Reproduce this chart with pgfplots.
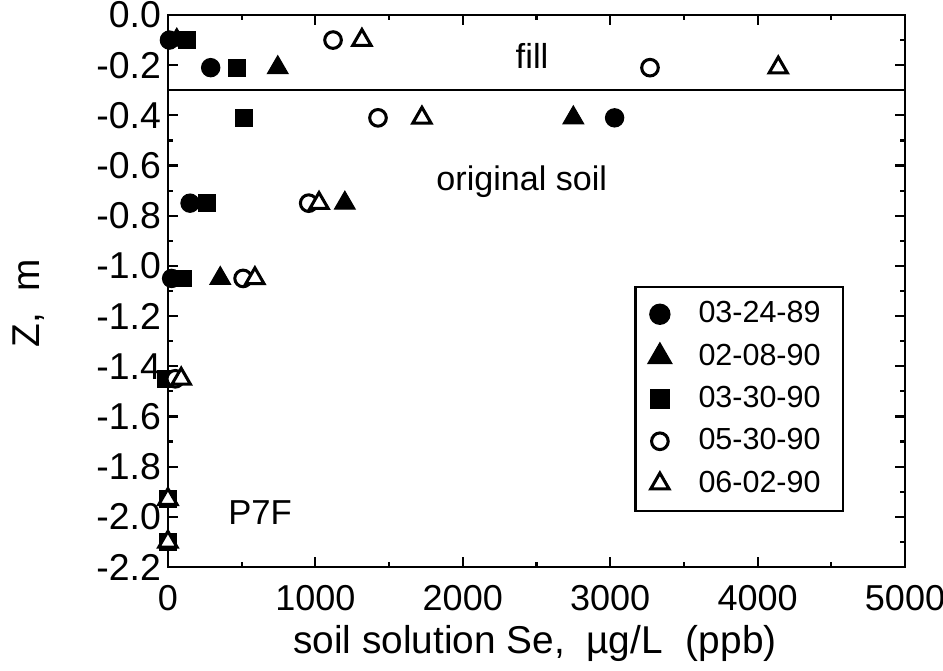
\documentclass[border=0pt]{standalone}
\usepackage{fontspec}
\setmainfont{Liberation Sans}
\usepackage{pgfplots}
\pgfplotsset{compat=1.18}
\begin{document}
\begin{tikzpicture}
\useasboundingbox (-60.6pt,-37.5pt) rectangle (279.7pt,204.6pt);
\begin{axis}[
  at={(0,0)}, anchor=south west,
  scale only axis, width=266pt, height=199.2pt,
  xmin=0, xmax=5000, ymin=-2.2, ymax=0,
  xtick={0,1000,2000,3000,4000,5000},
  minor xtick={500,1500,2500,3500,4500},
  ytick={-2.2,-2.0,-1.8,-1.6,-1.4,-1.2,-1.0,-0.8,-0.6,-0.4,-0.2,0.0},
  minor ytick={-2.1,-1.9,-1.7,-1.5,-1.3,-1.1,-0.9,-0.7,-0.5,-0.3,-0.1},
  tick align=inside, major tick length=3.6pt, minor tick length=1.8pt,
  axis line style={line width=0.9pt},
  every tick/.style={black, line width=0.8pt},
  scaled ticks=false,
  /pgf/number format/assume math mode=true,
  xticklabel style={/pgf/number format/1000 sep={}, font=\fontsize{13}{15}\selectfont, yshift=-3pt},
  yticklabel style={/pgf/number format/.cd, fixed, fixed zerofill, precision=1, /tikz/.cd, font=\fontsize{13.5}{15}\selectfont, xshift=1pt},
  xlabel={soil solution Se,\hspace{0.55em}µg/L\hspace{0.6em}(ppb)},
  xlabel style={font=\fontsize{14}{16}\selectfont, at={(axis description cs:0.498,-0.156)}, anchor=base},
  ylabel={Z,\hspace{0.55em}m},
  ylabel style={font=\fontsize{14}{16}\selectfont, at={(axis description cs:-0.174,0.478)}, anchor=base},
  clip=false,
  legend style={at={(rel axis cs:0.634,0.507)}, anchor=north west, draw=none, fill=none,
    font=\fontsize{11}{13}\selectfont, row sep=2.1pt, inner xsep=3pt, inner ysep=3pt},
  legend cell align=left,
  legend image code/.code={\path[draw=none,fill=none] (0cm,0cm) -- (0.62cm,0cm);\draw[#1, line width=1.1pt] plot coordinates {(0.2cm,0cm)};},
]
% horizontal boundary between fill and original soil
\addplot[black, line width=0.9pt, forget plot] coordinates {(0,-0.3) (5000,-0.3)};

% 03-24-89 filled circles
\addplot[only marks, mark=*, mark size=3.3pt, mark options={fill=black, draw=black}]
  coordinates {(10,-0.1) (290,-0.21) (3030,-0.41) (150,-0.75) (25,-1.05)};
\addlegendentry{03-24-89}
% 02-08-90 filled triangles
\addplot[only marks, mark=triangle*, mark size=4.3pt, mark options={fill=black, draw=black}]
  coordinates {(60,-0.1) (745,-0.21) (2750,-0.41) (1200,-0.75) (355,-1.05)};
\addlegendentry{02-08-90}
% 03-30-90 filled squares
\addplot[only marks, mark=square*, mark size=3.0pt, mark options={fill=black, draw=black}]
  coordinates {(130,-0.1) (470,-0.21) (515,-0.41) (265,-0.75) (100,-1.05) (-15,-1.45) (0,-1.93) (0,-2.1)};
\addlegendentry{03-30-90}
% 05-30-90 open circles
\addplot[only marks, mark=*, mark size=3.0pt, mark options={fill=white, draw=black, line width=1.1pt}]
  coordinates {(1120,-0.1) (3270,-0.21) (1425,-0.41) (955,-0.75) (510,-1.05) (50,-1.45)};
\addlegendentry{05-30-90}
% 06-02-90 open triangles
\addplot[only marks, mark=triangle*, mark size=3.8pt, mark options={fill=white, draw=black, line width=1.1pt}]
  coordinates {(1316,-0.1) (4140,-0.21) (1723,-0.41) (1025,-0.75) (590,-1.05) (90,-1.45) (0,-1.93) (0,-2.1)};
\addlegendentry{06-02-90}

% legend frame
\draw[line width=0.9pt] (rel axis cs:0.634,0.101) rectangle (rel axis cs:0.916,0.507);

\node[anchor=base, font=\fontsize{12.5}{14}\selectfont] at (axis cs:2470,-0.215) {fill};
\node[anchor=base, font=\fontsize{12.3}{14}\selectfont] at (axis cs:2400,-0.70) {original soil};
\node[anchor=base, font=\fontsize{12.5}{14}\selectfont] at (axis cs:625,-2.03) {P7F};
\end{axis}
\end{tikzpicture}
\end{document}
